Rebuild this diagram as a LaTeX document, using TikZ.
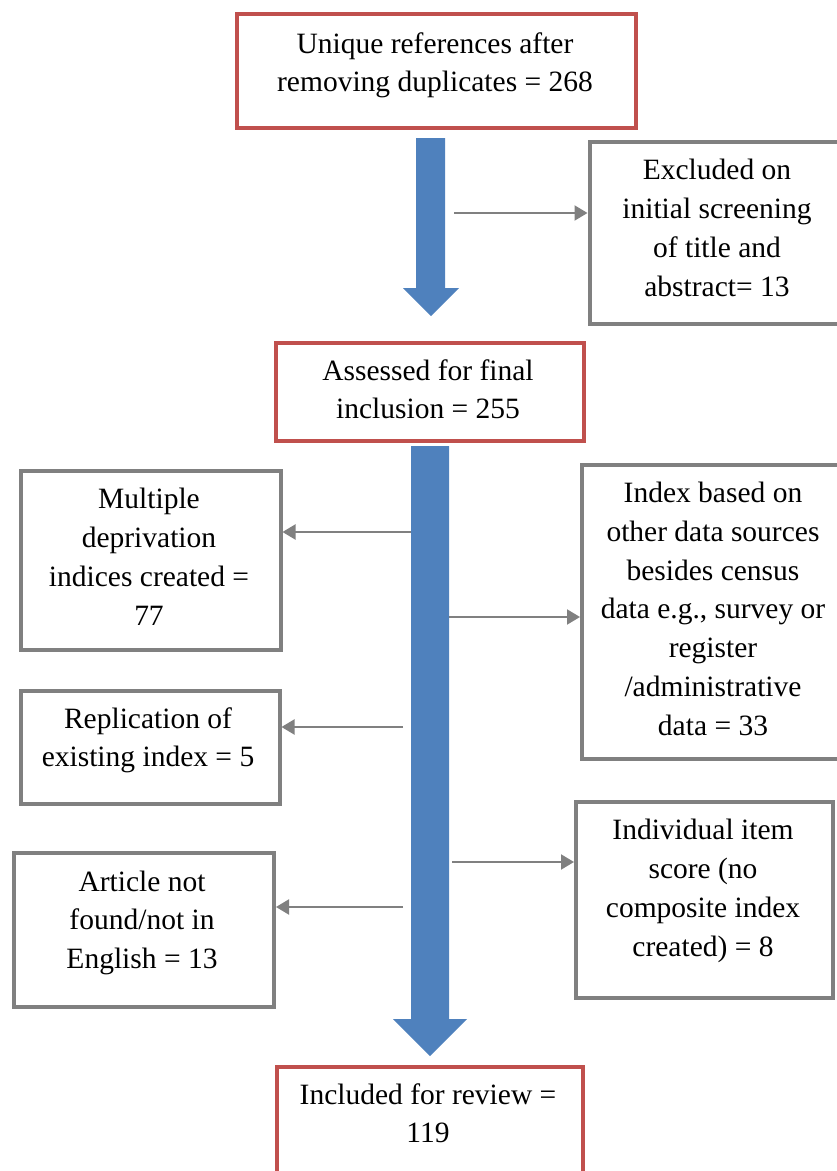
\documentclass[tikz,border=0pt]{standalone}
\usepackage{fontspec}
\setmainfont{Liberation Serif}
\usetikzlibrary{arrows.meta}
\definecolor{boxred}{HTML}{C0504D}
\definecolor{boxgray}{HTML}{808080}
\definecolor{flowblue}{HTML}{4F81BD}
\tikzset{
  redbox/.style={draw=boxred, line width=4pt, fill=white, anchor=north west, inner sep=0pt},
  graybox/.style={draw=boxgray, line width=4pt, fill=white, anchor=north west, inner sep=0pt},
  txt/.style={font=\fontsize{29.5}{38.7}\selectfont, align=center, inner sep=0pt, anchor=base},
  conn/.style={draw=boxgray, line width=2pt, -{Triangle[length=13pt,width=15pt]}},
  flow/.style={fill=flowblue, draw=none}
}
\begin{document}
\begin{tikzpicture}[x=1pt,y=-1pt]
\useasboundingbox (0,0) rectangle (837,1171);
\clip (0,0) rectangle (837,1171);
% blue flow arrows
\fill[flow] (416,138) -- (445,138) -- (445,288) -- (459,288) -- (431,316) -- (403,288) -- (416,288) -- cycle;
\fill[flow] (411,446) -- (449,446) -- (449,1019) -- (467,1019) -- (430,1056) -- (393,1019) -- (411,1019) -- cycle;
% boxes
\node[redbox, minimum width=399, minimum height=114] (uniq) at (235,12) {};
\node[graybox, minimum width=262, minimum height=182] (excl) at (587.5,140) {};
\node[redbox, minimum width=308, minimum height=98] (assess) at (274,341) {};
\node[graybox, minimum width=259.5, minimum height=179] (multi) at (19,469) {};
\node[graybox, minimum width=265, minimum height=294] (index) at (580,463) {};
\node[graybox, minimum width=258.5, minimum height=113] (repl) at (19,689) {};
\node[graybox, minimum width=257, minimum height=196] (indiv) at (574,800) {};
\node[graybox, minimum width=260, minimum height=154] (art) at (12,851) {};
\node[redbox, minimum width=306, minimum height=114] (incl) at (275,1065) {};
% texts (anchored at the baseline of their last line)
\node[txt] (uniq-t) at (435,91.7) {Unique references after\\removing duplicates = 268};
\node[txt] (excl-t) at (717,296) {Excluded on\\initial screening\\of title and\\abstract= 13};
\node[txt] (assess-t) at (428,418.7) {Assessed for final\\inclusion = 255};
\node[txt] (multi-t) at (149,625) {Multiple\\deprivation\\indices created =\\77};
\node[txt] (index-t) at (713,735) {Index based on\\other data sources\\besides census\\data e.g., survey or\\register\\/administrative\\data = 33};
\node[txt] (repl-t) at (148,766.7) {Replication of\\existing index = 5};
\node[txt] (indiv-t) at (703,956) {Individual item\\score (no\\composite index\\created) = 8};
\node[txt] (art-t) at (142,968.4) {Article not\\found/not in\\English = 13};
\node[txt] (incl-t) at (428,1142.7) {Included for review =\\119};
% connector start points on the flow
\coordinate (s1) at (454,213);
\coordinate (s2) at (411,532);
\coordinate (s3) at (449,617);
\coordinate (s4) at (403,727);
\coordinate (s5) at (452,862);
\coordinate (s6) at (403,907);
\draw[conn] (s1) -- (excl.west |- s1);
\draw[conn] (s2) -- (multi.east |- s2);
\draw[conn] (s3) -- (index.west |- s3);
\draw[conn] (s4) -- (repl.east |- s4);
\draw[conn] (s5) -- (indiv.west |- s5);
\draw[conn] (s6) -- (art.east |- s6);
\end{tikzpicture}
\end{document}
